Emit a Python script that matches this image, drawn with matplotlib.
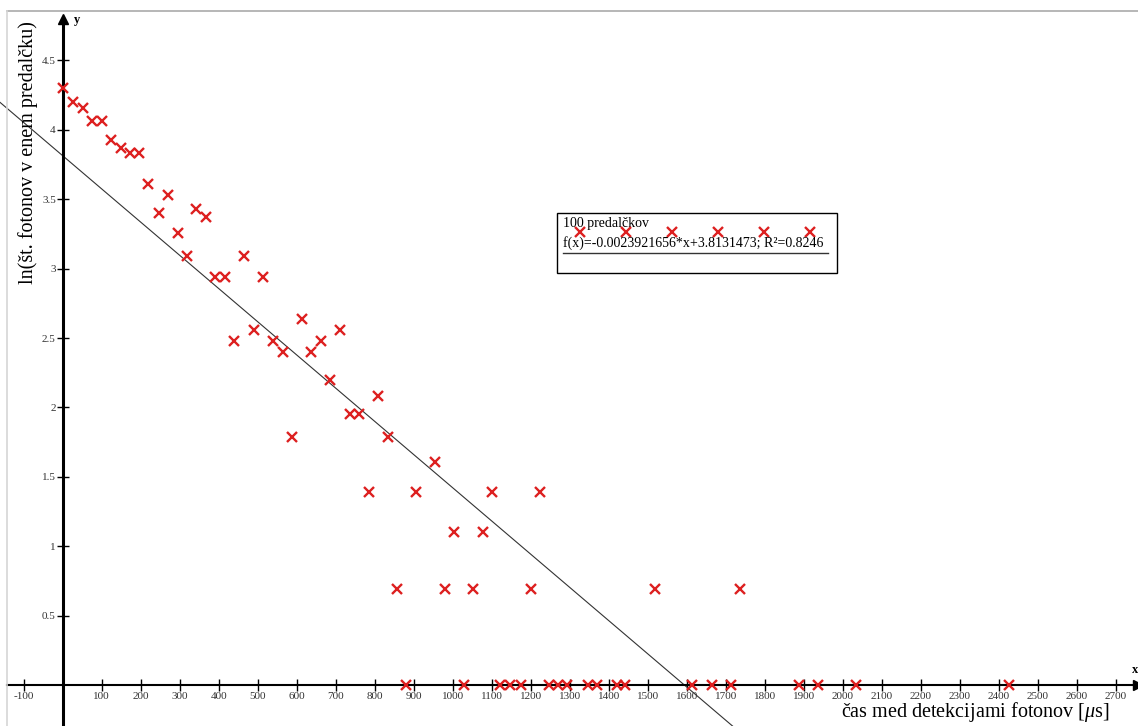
import numpy as np
import matplotlib
matplotlib.use("Agg")
import matplotlib.pyplot as plt
from matplotlib.lines import Line2D
from matplotlib.patches import Rectangle

# ---- data ----
time_us = [0, 26, 51, 74, 100, 123, 149, 172, 195, 218, 246, 269, 295, 318, 341, 367,
           390, 415, 438, 464, 490, 513, 538, 564, 587, 613, 636, 662, 685, 710, 736, 759,
           785, 808, 833, 856, 879, 905, 954, 979, 1003, 1028, 1051, 1077, 1100, 1122,
           1146, 1174, 1200, 1223, 1247, 1270, 1293, 1347, 1370, 1421, 1442, 1518, 1614,
           1665, 1714, 1736, 1887, 1936, 2033, 2426]
ln_counts = [4.30, 4.20, 4.16, 4.06, 4.06, 3.93, 3.87, 3.83, 3.83, 3.61, 3.40, 3.53, 3.26,
             3.09, 3.43, 3.37, 2.94, 2.94, 2.48, 3.09, 2.56, 2.94, 2.48, 2.40, 1.79, 2.64,
             2.40, 2.48, 2.20, 2.56, 1.95, 1.95, 1.39, 2.08, 1.79, 0.69, 0.0, 1.39, 1.61,
             0.69, 1.10, 0.0, 0.69, 1.10, 1.39, 0.0, 0.0, 0.0, 0.69, 1.39, 0.0, 0.0, 0.0,
             0.0, 0.0, 0.0, 0.0, 0.69, 0.0, 0.0, 0.0, 0.69, 0.0, 0.0, 0.0, 0.0]
fit_slope = -0.0023921656
fit_intercept = 3.8131473
fit_r2 = 0.8246
series_label = "100 predalčkov"
x_ticks = [t for t in range(-100, 2800, 100) if t != 0]
y_ticks = [0.5, 1, 1.5, 2, 2.5, 3, 3.5, 4, 4.5]
x_label = "čas med detekcijami fotonov [$\\mu$s]"
y_label = "ln(št. fotonov v enem predalčku)"

plt.rcParams['font.family'] = ['Liberation Serif', 'DejaVu Serif']
plt.rcParams['mathtext.fontset'] = 'custom'
plt.rcParams['mathtext.rm'] = 'Liberation Serif'
plt.rcParams['mathtext.it'] = 'Liberation Serif:italic'

W, H = 1138, 726
fig = plt.figure(figsize=(W / 100, H / 100), dpi=100)
ax = fig.add_axes([0, 0, 1, 1])
ax.set_xlim(-160.8, 2757)
ax.set_ylim(-0.295, 4.935)

def fx(px):
    return px / W

def fy(py):
    return 1 - py / H

# axes through origin
for s in ['top', 'right']:
    ax.spines[s].set_visible(False)
ax.spines['left'].set_position(('data', 0))
ax.spines['bottom'].set_position(('data', 0))
ax.spines['left'].set_linewidth(2.2)
ax.spines['bottom'].set_linewidth(1.5)
ax.spines['left'].set_bounds(-0.295, 4.80)
ax.spines['bottom'].set_bounds(-143, 2750)
ax.plot(1, 0, marker='>', color='black', markersize=7, transform=ax.get_yaxis_transform(),
        clip_on=False)
ax.plot(0, 4.80, marker='^', color='black', markersize=7, clip_on=False)

ax.set_xticks(x_ticks)
ax.set_yticks(y_ticks)
ax.set_xticklabels([str(t) for t in x_ticks])
ax.set_yticklabels(['%g' % t for t in y_ticks])
ax.tick_params(axis='both', direction='inout', length=9, width=1, colors='black',
               labelsize=8, labelcolor='#333333', pad=0.5)

# gray frame
fig.add_artist(Line2D([fx(7), 1], [fy(11), fy(11)], color='#aaaaaa', lw=1.2,
                      transform=fig.transFigure))
fig.add_artist(Line2D([fx(7), fx(7)], [fy(11), 0], color='#d5d5d5', lw=1.2,
                      transform=fig.transFigure))

# regression line
ax.axline((0, fit_intercept), slope=fit_slope, color='#333333', lw=0.8)

# data
red = '#dd2020'
ax.plot(time_us, ln_counts, ls='none', marker='x', color=red, markersize=6.5,
        markeredgewidth=1.7, clip_on=False, zorder=5)

# axis labels
ax.text(fx(28), fy(153), y_label, rotation=90, ha='center', va='center', fontsize=14.5,
        transform=ax.transAxes)
ax.text(fx(975), fy(712), x_label, ha='center', va='center', fontsize=14.5,
        transform=ax.transAxes)
ax.text(fx(77), fy(20), 'y', ha='center', va='center', fontsize=9, fontweight='bold',
        transform=ax.transAxes)
ax.text(fx(1135), fy(670), 'x', ha='center', va='center', fontsize=9, fontweight='bold',
        transform=ax.transAxes)

# legend box
ax.add_patch(Rectangle((fx(557), fy(273)), fx(837) - fx(557), fy(213) - fy(273),
                       transform=ax.transAxes, fill=False, edgecolor='black', lw=1,
                       zorder=6))
ax.text(fx(563), fy(223), series_label, ha='left', va='center', fontsize=10,
        transform=ax.transAxes, zorder=7)
ax.plot(np.linspace(fx(580), fx(810), 6), [fy(232)] * 6, ls='none', marker='x',
        color=red, markersize=6.5, markeredgewidth=1.7, transform=ax.transAxes, zorder=7)
ax.text(fx(563), fy(243),
        "f(x)=%.10f*x+%.7f; R²=%.4f" % (fit_slope, fit_intercept, fit_r2),
        ha='left', va='center', fontsize=10, transform=ax.transAxes, zorder=7)
ax.plot([fx(563), fx(828)], [fy(253), fy(253)], color='#333333', lw=1,
        transform=ax.transAxes, zorder=7)

fig.savefig('out.png', dpi=100)
